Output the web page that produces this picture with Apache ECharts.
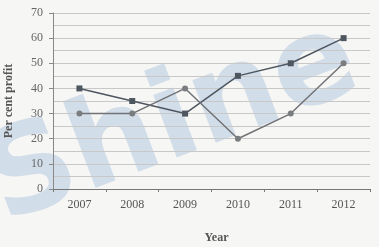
<!DOCTYPE html>
<html>
<head>
<meta charset="utf-8">
<script src="https://cdn.jsdelivr.net/npm/echarts@6/dist/echarts.min.js"></script>
<style>
html,body{margin:0;padding:0;background:#f6f6f4;}
#chart{width:379px;height:247px;}
</style>
</head>
<body>
<div id="chart"></div>
<script>
//年份
var years = ['2007', '2008', '2009', '2010', '2011', '2012'];
//两条折线数据
var seriesA = [40, 35, 30, 45, 50, 60];
var seriesB = [30, 30, 40, 20, 30, 50];
//纵轴范围
var yMin = 0, yMax = 70, yStep = 10;

var chart = echarts.init(document.getElementById('chart'));
var font = 'Liberation Serif';
var option = {
    backgroundColor: '#f6f6f4',
    animation: false,
    //水印
    graphic: [{
        type: 'text',
        x: 14,
        y: 250,
        rotation: 0.36,
        z: 0,
        style: {
            text: 'Shine',
            fontSize: 122,
            fontWeight: 'bold',
            fontFamily: 'DejaVu Sans',
            textAlign: 'left',
            textVerticalAlign: 'bottom',
            fill: 'rgba(110,150,205,0.26)'
        }
    }],
    grid: {left: 53, right: 9, top: 13, bottom: 58, outerBoundsMode: 'none', containLabel: false},
    xAxis: {
        type: 'category',
        data: years,
        boundaryGap: true,
        name: 'Year',
        nameLocation: 'middle',
        nameGap: 43,
        nameTextStyle: {fontFamily: font, fontWeight: 'bold', fontSize: 12, color: '#555', padding: [0, 0, 0, 10]},
        axisLine: {lineStyle: {color: '#777', width: 1}},
        axisTick: {show: true, alignWithLabel: false, length: 3, lineStyle: {color: '#777'}},
        axisLabel: {fontFamily: font, fontSize: 12, color: '#555', margin: 10}
    },
    yAxis: {
        type: 'value',
        min: yMin,
        max: yMax,
        interval: yStep,
        name: 'Per cent profit',
        nameLocation: 'middle',
        nameGap: 38,
        nameTextStyle: {fontFamily: font, fontWeight: 'bold', fontSize: 12, color: '#555'},
        axisLine: {show: true, lineStyle: {color: '#888'}},
        axisTick: {show: true, length: 4, lineStyle: {color: '#888'}},
        axisLabel: {fontFamily: font, fontSize: 12, color: '#666', margin: 10},
        splitLine: {show: true, lineStyle: {color: '#c8c8c8', width: 1}},
        minorTick: {show: false, splitNumber: 2},
        minorSplitLine: {show: true, lineStyle: {color: '#c8c8c8', width: 1}}
    },
    series: [{
        name: 'A',
        type: 'line',
        data: seriesA,
        symbol: 'rect',
        symbolSize: 6,
        lineStyle: {color: '#4e5660', width: 1.5},
        itemStyle: {color: '#4e5660'}
    }, {
        name: 'B',
        type: 'line',
        data: seriesB,
        symbol: 'circle',
        symbolSize: 6,
        lineStyle: {color: '#707275', width: 1.5},
        itemStyle: {color: '#7a7d80'}
    }]
};
chart.setOption(option);
</script>
</body>
</html>
